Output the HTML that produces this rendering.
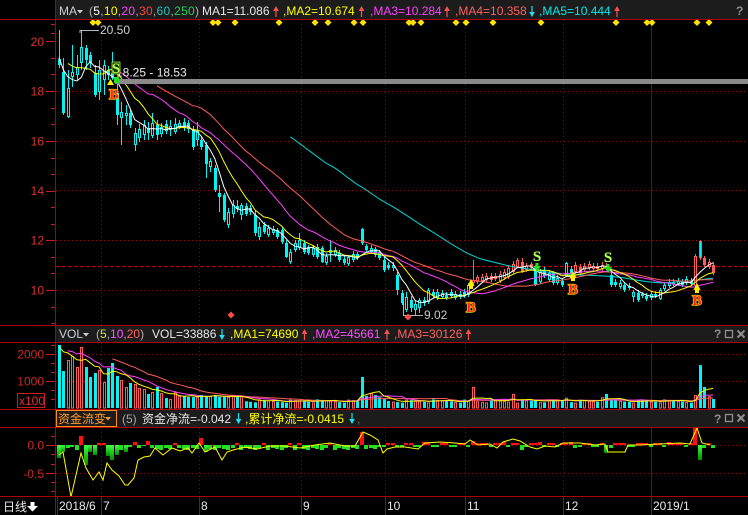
<!DOCTYPE html>
<html><head><meta charset="utf-8">
<style>
html,body{margin:0;padding:0;background:#000;}
body{width:748px;height:515px;overflow:hidden;position:relative;}
svg{position:absolute;left:0;top:0;}
svg text{font-family:"Liberation Sans","Noto Sans CJK SC",sans-serif;font-size:12px;}
.sb{font-family:"Liberation Serif","Noto Serif CJK SC",serif;font-weight:bold;font-size:15px;text-anchor:middle;paint-order:stroke;}
</style></head><body>
<svg id="s" width="748" height="515" viewBox="0 0 748 515" xmlns="http://www.w3.org/2000/svg">
<defs>
<clipPath id="cm"><rect x="56" y="20" width="692" height="305"/></clipPath>
<clipPath id="cv"><rect x="56" y="343" width="692" height="66"/></clipPath>
<clipPath id="cf"><rect x="56" y="428" width="692" height="68"/></clipPath>
<linearGradient id="gg" x1="0" y1="0" x2="0" y2="1"><stop offset="0" stop-color="#40ff40"/><stop offset="1" stop-color="#009000"/></linearGradient>
</defs>
<rect width="748" height="515" fill="#000"/>
<rect x="56" y="0" width="692" height="19" fill="#1c1c1c"/>
<rect x="56" y="326" width="692" height="16" fill="#1c1c1c"/>
<rect x="56" y="410" width="692" height="17" fill="#1c1c1c"/>

<g stroke="#9a0000" stroke-width="1" stroke-dasharray="1,3">
<line x1="56" y1="91.5" x2="748" y2="91.5"/>
<line x1="56" y1="141.5" x2="748" y2="141.5"/>
<line x1="56" y1="190.5" x2="748" y2="190.5"/>
<line x1="56" y1="240.5" x2="748" y2="240.5"/>
<line x1="56" y1="290.5" x2="748" y2="290.5"/>
<line x1="56" y1="354.5" x2="748" y2="354.5"/>
<line x1="56" y1="381.5" x2="748" y2="381.5"/>
<line x1="56" y1="445.5" x2="748" y2="445.5"/>
<line x1="56" y1="473.5" x2="748" y2="473.5"/>
<line x1="101.5" y1="20" x2="101.5" y2="325"/><line x1="199.5" y1="20" x2="199.5" y2="325"/>
<line x1="301.5" y1="20" x2="301.5" y2="325"/><line x1="385.5" y1="20" x2="385.5" y2="325"/>
<line x1="465.5" y1="20" x2="465.5" y2="325"/><line x1="563.5" y1="20" x2="563.5" y2="325"/>
<line x1="101.5" y1="343" x2="101.5" y2="409"/><line x1="199.5" y1="343" x2="199.5" y2="409"/>
<line x1="301.5" y1="343" x2="301.5" y2="409"/><line x1="385.5" y1="343" x2="385.5" y2="409"/>
<line x1="465.5" y1="343" x2="465.5" y2="409"/><line x1="563.5" y1="343" x2="563.5" y2="409"/>
<line x1="101.5" y1="428" x2="101.5" y2="496"/><line x1="199.5" y1="428" x2="199.5" y2="496"/>
<line x1="301.5" y1="428" x2="301.5" y2="496"/><line x1="385.5" y1="428" x2="385.5" y2="496"/>
<line x1="465.5" y1="428" x2="465.5" y2="496"/><line x1="563.5" y1="428" x2="563.5" y2="496"/>
</g>
<g stroke="#8a0000" stroke-width="1">
<line x1="651.5" y1="20" x2="651.5" y2="325"/>
<line x1="651.5" y1="343" x2="651.5" y2="409"/>
<line x1="651.5" y1="428" x2="651.5" y2="496"/>
</g>
<line x1="56" y1="266.5" x2="748" y2="266.5" stroke="#c80000" stroke-width="1" stroke-dasharray="4,2"/>

<g id="candles" clip-path="url(#cm)"></g>
<g id="mas" clip-path="url(#cm)"></g>
<rect x="115" y="79" width="633" height="5" fill="#8a8a8a"/>

<!-- price labels / markers -->
<polyline points="80,33 80,30.5 99,30.5" fill="none" stroke="#b8b8b8" stroke-width="1"/>
<text x="100" y="34" fill="#d0d0d0">20.50</text>
<text x="116" y="76.5" fill="#ececec">18.25 - 18.53</text>
<polyline points="403.5,302 403.5,315.5 423,315.5" fill="none" stroke="#b8b8b8" stroke-width="1"/>
<text x="424" y="319" fill="#c8c8c8">9.02</text>
<g id="diam"></g>

<!-- S/B markers -->
<rect x="112" y="62" width="8" height="12" fill="#0a3a0a" stroke="#c8e040" stroke-width="0.8"/>
<text class="sb" x="116" y="73" fill="#b8ff50" stroke="#1a5a1a" stroke-width="0.6" font-size="13">S</text>
<text class="sb" x="114" y="99" fill="#ff2020" stroke="#ffee00" stroke-width="1.2">B</text>
<polygon points="107,85 110.5,79 114,85" fill="#ffee00"/>
<rect x="114" y="77" width="5" height="6" fill="#20e020"/>

<text class="sb" x="471" y="312" fill="#ff2020" stroke="#ffee00" stroke-width="1.2">B</text>
<polygon points="467.5,286 471,279 474.5,286" fill="#ffee00"/><rect x="469" y="285" width="4" height="4" fill="#ffee00"/>
<text class="sb" x="537" y="261" fill="#b8ff50" stroke="#1a5a1a" stroke-width="0.6">S</text>
<rect x="535.5" y="263" width="3" height="4" fill="#20e020"/><polygon points="533,266 537,272 541,266" fill="#20e020"/>
<text class="sb" x="573" y="294" fill="#ff2020" stroke="#ffee00" stroke-width="1.2">B</text>
<polygon points="569.5,278 573,271 576.5,278" fill="#ffee00"/><rect x="571" y="277" width="4" height="4" fill="#ffee00"/>
<text class="sb" x="608" y="262" fill="#b8ff50" stroke="#1a5a1a" stroke-width="0.6">S</text>
<rect x="606.5" y="264" width="3" height="4" fill="#20e020"/><polygon points="604,267 608,273 612,267" fill="#20e020"/>
<text class="sb" x="697" y="305" fill="#ff2020" stroke="#ffee00" stroke-width="1.2">B</text>
<polygon points="693.5,290 697,283 700.5,290" fill="#ffee00"/><rect x="695" y="289" width="4" height="4" fill="#ffee00"/>

<g id="vols" clip-path="url(#cv)"></g>
<g id="vmas" clip-path="url(#cv)"></g>
<g id="fund" clip-path="url(#cf)"></g>

<!-- separators -->
<g stroke="#b00000" stroke-width="1">
<line x1="0" y1="19.5" x2="748" y2="19.5"/>
<line x1="0" y1="325.5" x2="748" y2="325.5"/>
<line x1="0" y1="342.5" x2="748" y2="342.5"/>
<line x1="0" y1="409.5" x2="748" y2="409.5"/>
<line x1="0" y1="427.5" x2="748" y2="427.5"/>
<line x1="0" y1="496.5" x2="748" y2="496.5"/>
<line x1="55.5" y1="0" x2="55.5" y2="515"/>
<line x1="57.5" y1="497" x2="57.5" y2="515"/>
<line x1="101.5" y1="497" x2="101.5" y2="515"/>
<line x1="199.5" y1="497" x2="199.5" y2="515"/>
<line x1="301.5" y1="497" x2="301.5" y2="515"/>
<line x1="385.5" y1="497" x2="385.5" y2="515"/>
<line x1="465.5" y1="497" x2="465.5" y2="515"/>
<line x1="563.5" y1="497" x2="563.5" y2="515"/>
<line x1="651.5" y1="497" x2="651.5" y2="515"/>
</g>
<g id="ticks" stroke="#c02020" stroke-width="1"></g>

<!-- axis labels -->
<g fill="#d83030" text-anchor="end">
<text x="44" y="46">20</text>
<text x="44" y="95.5">18</text>
<text x="44" y="145.5">16</text>
<text x="44" y="195">14</text>
<text x="44" y="244.5">12</text>
<text x="44" y="294.5">10</text>
</g>
<g fill="#c82828" text-anchor="end">
<text x="44" y="358.5">2000</text>
<text x="44" y="385.5">1000</text>
<text x="44" y="449.5">0.0</text>
<text x="44" y="478">-0.5</text>
</g>
<rect x="17.5" y="393.5" width="27" height="14" fill="none" stroke="#c02020" stroke-width="1"/>
<text x="19" y="405" fill="#e03030">x100</text>

<!-- top header -->
<text x="59" y="15" fill="#c8d0d8">MA</text>
<polygon points="77,10 83,10 80,13.5" fill="#c8d0d8"/>
<text x="89" y="15" textLength="110" lengthAdjust="spacing"><tspan fill="#b0b0b0">(</tspan><tspan fill="#ffffff">5</tspan><tspan fill="#b0b0b0">,</tspan><tspan fill="#ffff00">10</tspan><tspan fill="#b0b0b0">,</tspan><tspan fill="#ff40ff">20</tspan><tspan fill="#b0b0b0">,</tspan><tspan fill="#ff4040">30</tspan><tspan fill="#b0b0b0">,</tspan><tspan fill="#20c0c0">60</tspan><tspan fill="#b0b0b0">,</tspan><tspan fill="#20d060">250</tspan><tspan fill="#b0b0b0">)</tspan></text>
<text x="202" y="15" fill="#e8e8e8">MA1=11.086</text>
<text x="283" y="15" fill="#ffff00">,MA2=10.674</text>
<text x="370" y="15" fill="#ff40ff">,MA3=10.284</text>
<text x="455" y="15" fill="#ff6060">,MA4=10.358</text>
<text x="539" y="15" fill="#00e8e8">,MA5=10.444</text>
<text x="736" y="15" fill="#909090" font-weight="bold" font-size="13">?</text>

<!-- vol header -->
<text x="59" y="338" fill="#c8d0d8">VOL</text>
<polygon points="83,333 89,333 86,336.5" fill="#c8d0d8"/>
<text x="96" y="338"><tspan fill="#b0b0b0">(</tspan><tspan fill="#e0e040">5</tspan><tspan fill="#b0b0b0">,</tspan><tspan fill="#ff50ff">10</tspan><tspan fill="#b0b0b0">,</tspan><tspan fill="#ff6060">20</tspan><tspan fill="#b0b0b0">)</tspan></text>
<text x="152" y="338" fill="#e8e8e8">VOL=33886</text>
<text x="230" y="338" fill="#ffff00">,MA1=74690</text>
<text x="312" y="338" fill="#ff50ff">,MA2=45661</text>
<text x="394" y="338" fill="#ff6060">,MA3=30126</text>

<!-- fund header -->
<rect x="56.5" y="410.5" width="60" height="16" fill="none" stroke="#ff8c1a" stroke-width="1"/>
<text x="58" y="423" fill="#ff9a2a" font-family="'Liberation Sans','Noto Sans CJK SC',sans-serif">资金流变</text>
<polygon points="105,417 111,417 108,420.5" fill="#ff9a2a"/>
<text x="122" y="423" fill="#a8a8a8">(5)</text>
<text x="142" y="423" fill="#e8e8e8">资金净流=-0.042</text>
<text x="245" y="423" fill="#ffff00">,累计净流=-0.0415</text>
<text x="357" y="423" fill="#707070">,</text>

<g id="arrows"></g>
<g fill="#909090" font-weight="bold">
<text x="714" y="338" font-size="13">?</text>
<text x="714" y="423" font-size="13">?</text>
</g>
<g fill="none" stroke="#909090" stroke-width="1.3">
<rect x="725.5" y="330.5" width="7" height="7"/>
<path d="M737.5,330.5 L744.5,337.5 M744.5,330.5 L737.5,337.5" stroke-width="2"/>
<rect x="725.5" y="414.5" width="7" height="7"/>
<path d="M737.5,414.5 L744.5,421.5 M744.5,414.5 L737.5,421.5" stroke-width="2"/>
</g>

<!-- bottom axis -->
<text x="3" y="511" fill="#e8e8e8">日线</text>
<polygon points="30.5,502 34.5,502 34.5,506 38,506 32.5,511.5 27,506 30.5,506" fill="#ffffff"/>
<g fill="#e8e8e8">
<text x="59" y="510">2018/6</text>
<text x="103" y="510">7</text>
<text x="201" y="510">8</text>
<text x="303" y="510">9</text>
<text x="387" y="510">10</text>
<text x="467" y="510">11</text>
<text x="565" y="510">12</text>
<text x="653" y="510">2019/1</text>
</g>
</svg>
<script>
(function(){
var NS='http://www.w3.org/2000/svg';
function E(p,t,a){var e=document.createElementNS(NS,t);for(var k in a)e.setAttribute(k,a[k]);p.appendChild(e);return e;}
function G(id){return document.getElementById(id);}
function xf(i){return 59+i*4.45;}
function xs(i){return Math.round(xf(i));}
var C=[
[59,65,1,30,68],[72,113,1,58,115],[88,117,0,70,118],[72,77,0,45,87],[67,75,0,55,80],
[47,63,0,30,70],[48,60,1,45,70],[55,63,1,52,68],[73,95,1,65,97],[70,92,0,60,100],
[65,80,0,60,95],[70,75,1,66,80],[73,78,1,52,80],[93,115,1,80,125],[112,118,0,102,145],
[113,116,0,105,125],[113,125,1,110,128],[133,145,0,128,151],[129,138,0,124,142],[125,135,0,120,140],
[128,133,1,122,140],[123,136,0,113,138],[125,135,1,120,140],[127,134,0,123,137],[124,131,1,120,134],
[126,130,0,120,136],[124,132,0,118,134],[123,127,0,120,129],[122,128,1,118,131],[123,129,1,120,133],
[130,147,1,126,150],[131,140,0,122,146],[140,147,1,136,150],[145,164,1,142,178],[161,167,0,158,172],
[168,190,1,165,192],[193,197,1,185,212],[195,220,1,193,222],[212,225,0,208,228],[205,214,0,200,218],
[206,209,1,200,212],[205,215,0,203,220],[206,214,1,203,216],[208,212,1,205,215],[215,233,1,210,236],
[227,237,0,222,240],[225,232,1,222,234],[228,235,0,225,237],[229,233,0,226,235],[230,237,1,228,239],
[230,242,1,228,244],[243,257,1,240,258],[252,262,0,249,264],[243,250,0,240,252],[240,248,0,233,250],
[243,252,1,240,254],[247,253,1,245,255],[248,255,0,245,257],[247,257,1,244,259],[248,262,1,246,263],
[256,263,0,253,265],[250,253,0,240,262],[250,255,0,247,257],[253,260,1,250,262],[259,263,1,256,265],
[257,264,0,255,266],[254,260,0,251,262],[254,258,1,252,260],[229,243,1,228,245],[246,250,1,244,252],
[248,252,0,245,254],[249,255,1,247,257],[252,258,1,250,260],[260,270,1,257,272],[265,268,1,262,270],
[265,268,0,262,271],[275,290,1,272,295],[293,303,1,290,305],[297,310,0,292,312],[300,308,1,296,312],
[304,310,0,300,315],[300,308,0,298,313],[300,303,1,297,306],[290,302,0,288,304],[292,296,1,289,298],
[292,298,0,289,300],[293,297,0,290,299],[295,298,1,292,300],[292,296,1,289,298],[294,298,0,291,300],
[294,297,1,291,299],[292,296,1,289,298],[285,295,0,283,297],[280,283,0,260,285],[277,282,0,275,284],
[277,281,0,274,283],[276,280,0,273,282],[276,280,1,273,282],[276,279,0,273,281],[274,281,0,271,283],
[272,278,0,269,280],[268,277,0,265,279],[264,272,0,261,274],[260,267,0,258,268],[262,272,1,258,273],
[266,270,0,263,272],[264,268,1,262,270],[268,285,1,265,286],[272,282,0,269,284],[270,276,1,267,278],
[273,280,0,270,282],[273,283,1,271,285],[278,283,0,275,285],[281,285,1,278,287],[263,276,0,262,277],
[269,273,1,266,275],[265,272,0,262,274],[267,273,1,264,275],[266,270,0,263,272],[264,268,0,261,270],
[266,269,0,263,271],[266,269,1,263,271],[265,269,0,262,271],[266,268,1,263,270],[275,285,1,270,287],
[282,285,1,279,287],[283,287,0,280,289],[285,290,1,282,292],[286,288,1,283,290],[292,297,0,290,302],
[293,300,1,290,302],[294,296,1,292,298],[296,299,1,293,301],[294,298,0,291,300],[294,296,1,291,298],
[290,299,0,288,300],[285,289,0,282,291],[282,286,0,279,288],[282,284,1,279,286],[281,284,0,278,286],
[282,285,1,279,287],[279,283,0,276,285],[281,284,1,278,286],[256,286,0,254,288],[241,258,1,240,260],
[258,265,1,256,267],[262,267,0,259,269],[265,273,1,262,275]
];
var N=C.length;
var CY='#00f4f4',RD='#ff5c5c';
function red(i){return (i>=93&&i<=106)||(i>=116&&i<=123)||i>=143;}
var gc=G('candles');
for(var i=0;i<N;i++){
 var c=C[i],t=c[0],b=c[1],f=c[2],wt=c[3],wb=c[4],x=xs(i),col=red(i)?RD:CY;
 if(wt<t)E(gc,'line',{x1:x+.5,x2:x+.5,y1:wt,y2:t,stroke:col,'stroke-width':1});
 if(wb>b)E(gc,'line',{x1:x+.5,x2:x+.5,y1:b,y2:wb,stroke:col,'stroke-width':1});
 if(f){
  if(i==144)E(gc,'rect',{x:x-.5,y:t+.5,width:2,height:Math.max(1,b-t-1),fill:CY,stroke:RD,'stroke-width':1});
  else E(gc,'rect',{x:x-1,y:t,width:3,height:Math.max(1,b-t),fill:col});
 }else E(gc,'rect',{x:x-.5,y:t+.5,width:2,height:Math.max(0.5,b-t-1),fill:'none',stroke:col,'stroke-width':1});
}
function maPts(arr,n,off,fy){var pts=[];for(var i=0;i<arr.length-off;i++){var k=i+off;if(k<n-1)continue;var s=0;for(var j=k-n+1;j<=k;j++)s+=arr[j];pts.push(xf(i).toFixed(1)+','+fy(s/n).toFixed(1));}return pts.join(' ');}
var pre=[45,48,52,50,55,58,60];
var cl=pre.slice();for(i=0;i<N;i++)cl.push(C[i][2]?C[i][1]:C[i][0]);
var gm=G('mas');
[[60,'#00d8d8'],[30,'#ff5c5c'],[20,'#ff40ff'],[10,'#ffff00'],[5,'#ffffff']].forEach(function(m){
 E(gm,'polyline',{points:maPts(cl,m[0],7,function(v){return v;}),fill:'none',stroke:m[1],'stroke-width':1});
});
// diamonds
var gd=G('diam');
function dia(x,y,col){E(gd,'polygon',{points:(x)+','+(y-3.5)+' '+(x+3.5)+','+y+' '+x+','+(y+3.5)+' '+(x-3.5)+','+y,fill:col});}
[93,98,213,218,235,279,315,328,354,363,409,413,421,456,466,493,541,616,647,652,697,709].forEach(function(x){dia(x,22.5,'#ffe000');});
dia(231,315,'#ff4a4a');dia(408,317,'#ff4a4a');
// volume
var V0=[2333,1370,1778,1926,1519,2259,1519,1148,1296,1407,963,1481,1667,1185,1037,778,926,889,741,704,519,593,778,556,370,333,593,444,444,407,407,407,481,444,444,481,407,407,407,481,407,444];
var V=[];for(i=0;i<N;i++)V.push(i<V0.length?V0[i]:200+((i*37+11)%13)*10);
var VO={68:1150,69:450,70:550,71:480,72:400,73:330,93:780,102:520,107:300,114:380,122:400,123:520,143:480,144:1590,145:780,146:440,147:333};
for(var k in VO){if(k<N)V[k]=VO[k];}
var gv=G('vols');
for(i=0;i<N;i++){var x=xs(i),h=V[i]*0.027;
 if(C[i][2])E(gv,'rect',{x:x-1,y:408-h,width:3,height:h,fill:CY});
 else E(gv,'rect',{x:x-.5,y:408-h+.5,width:2,height:Math.max(0.5,h-0.5),fill:'none',stroke:RD,'stroke-width':1});
}
var va=[2200,2400,2100,2300,2000,2500,2200].concat(V);
var gvm=G('vmas');
[[20,'#ff5c5c'],[10,'#ff40ff'],[5,'#ffff00']].forEach(function(m){
 E(gvm,'polyline',{points:maPts(va,m[0],7,function(v){return 408-v*0.027;}),fill:'none',stroke:m[1],'stroke-width':1});
});
// fund flow
var F=[];for(i=0;i<N;i++){F.push(i<=71?(3+(i*7)%3):(((i*5)%4<2)?2:-2));}
var FO={0:13,1:7,2:3,3:2,4:5,5:-9,6:20,7:7,8:10,9:-2,10:-2,11:11,12:15,13:10,14:5,15:7,16:2,17:-3,18:3,19:1,20:-4,26:-2,32:-7,33:7,40:-2,46:-2,52:-2,54:-2,61:-2,68:-13,69:4,70:3,71:4,82:-3,83:-3,85:2,91:-2,93:-4,96:-2,100:-3,104:5,108:-3,113:-2,115:-3,116:3,118:-2,123:8,124:3,125:-2,127:-2,132:-2,137:-3,140:-2,143:-17,144:15,145:3,147:3};
for(k in FO){if(k<N)F[k]=FO[k];}
var gf=G('fund');
for(i=0;i<N;i++){var x=xs(i),h=F[i];
 if(h>0)E(gf,'rect',{x:x-2,y:445,width:4,height:h,fill:h>6?'url(#gg)':'#20e020'});
 else E(gf,'rect',{x:x-2,y:445+h,width:4,height:-h,fill:'#ff1010'});
}
var YL=[[59,455],[63,452],[71,497],[81,453],[86,468],[93,480],[99,472],[103,480],[107,463],[112,470],[119,476],[125,485],[128,485],[134,478],[138,460],[144,457],[150,456],[155,448],[163,455],[172,448],[180,451],[188,448],[192,453],[199,443],[205,452],[215,447],[222,460],[227,452],[233,450],[245,447],[257,449],[270,446],[285,446],[300,448],[315,445],[330,443],[345,446],[355,446],[363,432],[370,435],[378,440],[383,453],[387,449],[395,447],[405,447],[418,449],[425,443],[440,442],[455,443],[465,444],[470,440],[478,445],[490,444],[497,448],[503,442],[513,439],[520,441],[530,447],[537,449],[545,446],[555,447],[563,443],[580,443],[595,445],[605,444],[608,452],[613,452],[625,452],[628,445],[640,445],[660,444],[680,443],[690,444],[697,428],[702,443],[710,445]];
E(gf,'polyline',{points:YL.map(function(p){return p.join(',');}).join(' '),fill:'none',stroke:'#ffff00','stroke-width':1});
// axis ticks
var gt=G('ticks');
function tk(y,len){E(gt,'line',{x1:55-len,x2:55,y1:y+.5,y2:y+.5});}
[41,91,141,190.5,240,290].forEach(function(y){tk(Math.round(y),9);for(var q=1;q<=2;q++){var yy=Math.round(y+q*16.6);if(yy<325)tk(yy,4);}});
[24.4,32.7].forEach(function(y){tk(Math.round(y),4);});
[354,381].forEach(function(y){tk(y,9);});
[345,363,372,390,399].forEach(function(y){tk(y,4);});
[445,473].forEach(function(y){tk(y,9);});
[436,454,464,482,491].forEach(function(y){tk(y,4);});
// header arrows
var ga=G('arrows');
function up(x,y0,col){E(ga,'line',{x1:x,x2:x,y1:y0+3,y2:y0+11,stroke:col,'stroke-width':1.2});E(ga,'polygon',{points:(x-2.8)+','+(y0+5)+' '+x+','+y0+' '+(x+2.8)+','+(y0+5),fill:col});}
function dn(x,y0,col){E(ga,'line',{x1:x,x2:x,y1:y0,y2:y0+8,stroke:col,'stroke-width':1.2});E(ga,'polygon',{points:(x-2.8)+','+(y0+6)+' '+x+','+(y0+11)+' '+(x+2.8)+','+(y0+6),fill:col});}
up(276,6,'#ff5050');up(361.5,6,'#ff5050');up(447,6,'#ff5050');dn(532,6,'#20e0f0');up(617,6,'#ff5050');
dn(222,329,'#20e0f0');up(304.5,329,'#ff5050');up(387,329,'#ff5050');up(468.5,329,'#ff5050');
dn(238.5,413,'#20e0f0');dn(352,413,'#20e0f0');
})();
</script>
</body></html>
